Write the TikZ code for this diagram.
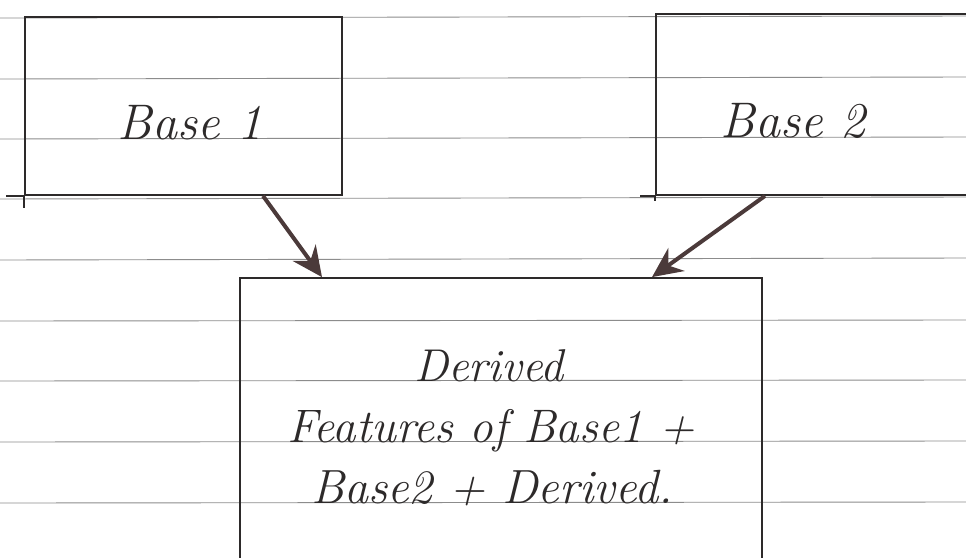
\documentclass[tikz,border=0pt]{standalone}
\usetikzlibrary{arrows.meta,calc}
\definecolor{ink}{RGB}{45,42,42}
\definecolor{arrowink}{RGB}{75,58,58}
\definecolor{rule}{RGB}{140,140,140}
\tikzset{
  ruled/.style={draw=rule, line width=0.9pt},
  box/.style={draw=ink, line width=1.8pt, rectangle, inner sep=0pt},
  tail/.style={draw=ink, line width=1.6pt},
  hand/.style={text=ink, font=\fontsize{#1}{52}\selectfont\itshape, inner sep=0pt},
  hand/.default=44,
  feed/.style={draw=arrowink, line width=4pt,
    -{Stealth[length=30pt,width=28pt,inset=10pt]}},
}
\begin{document}
\begin{tikzpicture}[x=1pt,y=-1pt]
  \useasboundingbox (0,0) rectangle (966,557);
  \fill[white] (0,0) rectangle (966,557);
  \clip (0,0) rectangle (966,557);

  % ruled notebook lines
  \foreach \yl/\yr in {18/16, 79/77, 139/137, 199/197, 260/258, 321/320, 381/380, 442/441, 503/502}
    \draw[ruled] (0,\yl) -- (966,\yr);

  % boxes
  \node[box, minimum width=317pt, minimum height=178pt] (base1) at (183.5,106) {};
  \node[box, minimum width=344pt, minimum height=181pt] (base2) at (828,104.5) {};
  \node[box, minimum width=522pt, minimum height=322pt] (derived) at (501,439) {};

  % pen overshoots at the lower left corners
  \draw[tail] (base1.south west) -- ++(-18,0);
  \draw[tail] (base1.south west) -- ++(0,12);
  \draw[tail] (base2.south west) -- ++(-15,0);
  \draw[tail] (base2.south west) -- ++(0,5);

  % labels
  \node[hand=50, anchor=base] (lab1) at (190,139) {Base 1};
  \node[hand=50, anchor=base] (lab2) at (793,137) {Base 2};
  \node[hand=46, anchor=base] (dl1) at (489,381) {Derived};
  \node[hand=47, anchor=base] (dl2) at (491,442) {Features of Base1 +};
  \node[hand=48, anchor=base] (dl3) at (492,503) {Base2 + Derived.};

  % arrows into the derived box
  \draw[feed] (263,0 |- base1.south) -- (322,0 |- derived.north);
  \draw[feed] (765,0 |- base2.south) -- (652,0 |- derived.north);
\end{tikzpicture}
\end{document}
